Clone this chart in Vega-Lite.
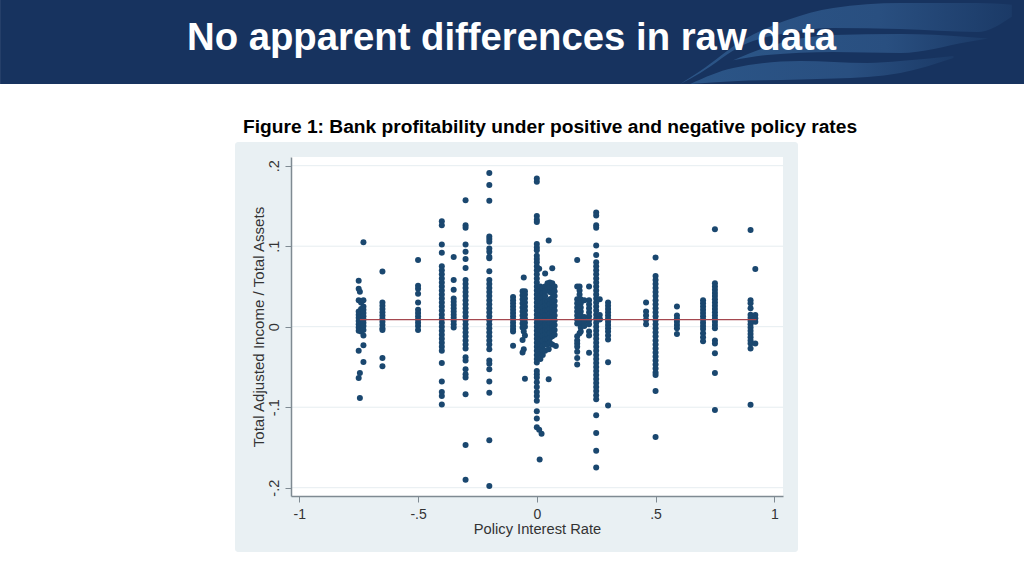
{"$schema":"https://vega.github.io/schema/vega-lite/v6.json","width":492,"height":339,"autosize":"none","padding":{"left":291,"top":157,"right":241,"bottom":80},"background":"#ffffff","view":{"stroke":null},
"resolve":{"axis":{"x":"independent","y":"independent"}},
"datasets":{"banks":[
{"rate":-0.75,"income":0.057},{"rate":-0.75,"income":0.047},{"rate":-0.745,"income":0.0435},{"rate":-0.75,"income":0.033},{"rate":-0.75,"income":0.019},{"rate":-0.75,"income":0.015},{"rate":-0.75,"income":0.011},{"rate":-0.75,"income":0.007},{"rate":-0.75,"income":0.003},{"rate":-0.75,"income":-0.001},{"rate":-0.75,"income":-0.005},{"rate":-0.74,"income":0.03},{"rate":-0.74,"income":0.022},{"rate":-0.74,"income":0.012},{"rate":-0.74,"income":0.004},{"rate":-0.74,"income":-0.006},{"rate":-0.75,"income":-0.03},{"rate":-0.75,"income":-0.0638},{"rate":-0.745,"income":-0.0576},{"rate":-0.745,"income":-0.0886},
{"rate":-0.73,"income":0.105},{"rate":-0.73,"income":0.033},{"rate":-0.73,"income":0.025},{"rate":-0.73,"income":0.021},{"rate":-0.73,"income":0.017},{"rate":-0.73,"income":0.013},{"rate":-0.73,"income":0.009},{"rate":-0.73,"income":0.005},{"rate":-0.73,"income":0.001},{"rate":-0.73,"income":-0.004},{"rate":-0.73,"income":-0.011},{"rate":-0.73,"income":-0.023},{"rate":-0.73,"income":-0.0438},
{"rate":-0.65,"income":0.0687},{"rate":-0.65,"income":0.03},{"rate":-0.65,"income":0.026},{"rate":-0.65,"income":0.022},{"rate":-0.65,"income":0.018},{"rate":-0.65,"income":0.014},{"rate":-0.65,"income":0.01},{"rate":-0.65,"income":0.006},{"rate":-0.65,"income":0.002},{"rate":-0.65,"income":-0.002},{"rate":-0.65,"income":-0.004},{"rate":-0.65,"income":-0.039},{"rate":-0.65,"income":-0.049},
{"rate":-0.5,"income":0.083},{"rate":-0.5,"income":0.051},{"rate":-0.5,"income":0.047},{"rate":-0.5,"income":0.041},{"rate":-0.5,"income":0.03},{"rate":-0.5,"income":0.021},{"rate":-0.5,"income":0.017},{"rate":-0.5,"income":0.013},{"rate":-0.5,"income":0.009},{"rate":-0.5,"income":0.005},{"rate":-0.5,"income":0.001},{"rate":-0.5,"income":-0.004},
{"rate":-0.4,"income":0.131},{"rate":-0.4,"income":0.126},{"rate":-0.4,"income":0.102},{"rate":-0.4,"income":0.092},{"rate":-0.4,"income":0.075},{"rate":-0.4,"income":0.07},{"rate":-0.4,"income":0.065},{"rate":-0.4,"income":0.06},{"rate":-0.4,"income":0.055},{"rate":-0.4,"income":0.05},{"rate":-0.4,"income":0.045},{"rate":-0.4,"income":0.04},{"rate":-0.4,"income":0.035},{"rate":-0.4,"income":0.03},{"rate":-0.4,"income":0.025},{"rate":-0.4,"income":0.02},{"rate":-0.4,"income":0.015},{"rate":-0.4,"income":0.01},{"rate":-0.4,"income":0.005},{"rate":-0.4,"income":0},{"rate":-0.4,"income":-0.005},{"rate":-0.4,"income":-0.01},{"rate":-0.4,"income":-0.015},{"rate":-0.4,"income":-0.02},{"rate":-0.4,"income":-0.025},{"rate":-0.4,"income":-0.03},{"rate":-0.4,"income":-0.045},{"rate":-0.4,"income":-0.068},{"rate":-0.4,"income":-0.081},{"rate":-0.4,"income":-0.086},{"rate":-0.4,"income":-0.0965},
{"rate":-0.35,"income":0.0865},{"rate":-0.35,"income":0.058},{"rate":-0.35,"income":0.046},{"rate":-0.35,"income":0.035},{"rate":-0.35,"income":0.031},{"rate":-0.35,"income":0.027},{"rate":-0.35,"income":0.023},{"rate":-0.35,"income":0.019},{"rate":-0.35,"income":0.015},{"rate":-0.35,"income":0.011},{"rate":-0.35,"income":0.007},{"rate":-0.35,"income":0.003},{"rate":-0.35,"income":-0.001},
{"rate":-0.3,"income":0.157},{"rate":-0.3,"income":0.126},{"rate":-0.3,"income":0.123},{"rate":-0.3,"income":0.102},{"rate":-0.3,"income":0.093},{"rate":-0.3,"income":0.084},{"rate":-0.3,"income":0.073},{"rate":-0.3,"income":0.058},{"rate":-0.3,"income":0.053},{"rate":-0.3,"income":0.048},{"rate":-0.3,"income":0.043},{"rate":-0.3,"income":0.038},{"rate":-0.3,"income":0.033},{"rate":-0.3,"income":0.028},{"rate":-0.3,"income":0.023},{"rate":-0.3,"income":0.018},{"rate":-0.3,"income":0.013},{"rate":-0.3,"income":0.008},{"rate":-0.3,"income":0.003},{"rate":-0.3,"income":-0.002},{"rate":-0.3,"income":-0.007},{"rate":-0.3,"income":-0.012},{"rate":-0.3,"income":-0.017},{"rate":-0.3,"income":-0.022},{"rate":-0.3,"income":-0.027},{"rate":-0.3,"income":-0.038},{"rate":-0.3,"income":-0.042},{"rate":-0.3,"income":-0.053},{"rate":-0.3,"income":-0.059},{"rate":-0.3,"income":-0.063},{"rate":-0.3,"income":-0.084},{"rate":-0.3,"income":-0.147},{"rate":-0.3,"income":-0.19},
{"rate":-0.2,"income":0.191},{"rate":-0.2,"income":0.176},{"rate":-0.2,"income":0.1565},{"rate":-0.2,"income":0.112},{"rate":-0.2,"income":0.109},{"rate":-0.2,"income":0.1056},{"rate":-0.2,"income":0.097},{"rate":-0.2,"income":0.093},{"rate":-0.2,"income":0.087},{"rate":-0.2,"income":0.085},{"rate":-0.2,"income":0.069},{"rate":-0.2,"income":0.058},{"rate":-0.2,"income":0.053},{"rate":-0.2,"income":0.048},{"rate":-0.2,"income":0.043},{"rate":-0.2,"income":0.038},{"rate":-0.2,"income":0.033},{"rate":-0.2,"income":0.028},{"rate":-0.2,"income":0.023},{"rate":-0.2,"income":0.018},{"rate":-0.2,"income":0.013},{"rate":-0.2,"income":0.008},{"rate":-0.2,"income":0.003},{"rate":-0.2,"income":-0.002},{"rate":-0.2,"income":-0.007},{"rate":-0.2,"income":-0.012},{"rate":-0.2,"income":-0.017},{"rate":-0.2,"income":-0.022},{"rate":-0.2,"income":-0.028},{"rate":-0.2,"income":-0.042},{"rate":-0.2,"income":-0.046},{"rate":-0.2,"income":-0.053},{"rate":-0.2,"income":-0.068},{"rate":-0.2,"income":-0.082},{"rate":-0.2,"income":-0.141},{"rate":-0.2,"income":-0.198},
{"rate":-0.1,"income":0.037},{"rate":-0.1,"income":0.033},{"rate":-0.1,"income":0.029},{"rate":-0.1,"income":0.025},{"rate":-0.1,"income":0.021},{"rate":-0.1,"income":0.017},{"rate":-0.1,"income":0.013},{"rate":-0.1,"income":0.009},{"rate":-0.1,"income":0.005},{"rate":-0.1,"income":0.001},{"rate":-0.1,"income":-0.003},{"rate":-0.1,"income":-0.006},{"rate":-0.1,"income":-0.0236},
{"rate":-0.055,"income":0.061},{"rate":-0.06,"income":0.044},{"rate":-0.05,"income":0.044},{"rate":-0.06,"income":0.039},{"rate":-0.05,"income":0.04},{"rate":-0.06,"income":0.034},{"rate":-0.05,"income":0.035},{"rate":-0.06,"income":0.029},{"rate":-0.05,"income":0.03},{"rate":-0.06,"income":0.024},{"rate":-0.05,"income":0.025},{"rate":-0.06,"income":0.019},{"rate":-0.05,"income":0.02},{"rate":-0.06,"income":0.014},{"rate":-0.05,"income":0.015},{"rate":-0.06,"income":0.009},{"rate":-0.05,"income":0.01},{"rate":-0.06,"income":0.004},{"rate":-0.05,"income":0.005},{"rate":-0.06,"income":-0.001},{"rate":-0.05,"income":0},{"rate":-0.055,"income":-0.006},{"rate":-0.05,"income":-0.011},{"rate":-0.06,"income":-0.0166},{"rate":-0.055,"income":-0.028},{"rate":-0.06,"income":-0.032},{"rate":-0.05,"income":-0.0646},
{"rate":0,"income":0.184},{"rate":0,"income":0.18},{"rate":0,"income":0.1375},{"rate":0,"income":0.133},{"rate":0,"income":0.13},{"rate":0,"income":0.1027},{"rate":0,"income":0.0985},{"rate":0,"income":0.095},{"rate":0,"income":0.088},{"rate":0,"income":0.084},{"rate":0,"income":0.08},{"rate":0,"income":0.075},{"rate":0,"income":0.07},{"rate":0,"income":0.065},{"rate":0,"income":0.06},{"rate":0,"income":0.055},{"rate":0,"income":0.05},{"rate":0,"income":0.045},{"rate":0,"income":0.04},{"rate":0,"income":0.035},{"rate":0,"income":0.03},{"rate":0,"income":0.025},{"rate":0,"income":0.02},{"rate":0,"income":0.015},{"rate":0,"income":0.01},{"rate":0,"income":0.005},{"rate":0,"income":0},{"rate":0,"income":-0.005},{"rate":0,"income":-0.01},{"rate":0,"income":-0.015},{"rate":0,"income":-0.02},{"rate":0,"income":-0.025},{"rate":0,"income":-0.03},{"rate":0,"income":-0.035},{"rate":0,"income":-0.04},{"rate":0,"income":-0.0444},{"rate":0,"income":-0.055},{"rate":0,"income":-0.059},{"rate":0,"income":-0.063},{"rate":0,"income":-0.069},{"rate":0,"income":-0.075},{"rate":0,"income":-0.081},{"rate":0,"income":-0.086},{"rate":0,"income":-0.092},{"rate":0,"income":-0.105},{"rate":0,"income":-0.114},{"rate":0,"income":-0.125},{"rate":0.01,"income":-0.128},{"rate":0.02,"income":-0.133},{"rate":0.012,"income":-0.165},{"rate":0.01,"income":0.072},
{"rate":0.035,"income":0.066},{"rate":0.05,"income":0.107},{"rate":0.065,"income":0.0725},{"rate":0.05,"income":-0.0654},
{"rate":0.015,"income":0.05},{"rate":0.015,"income":0.044},{"rate":0.015,"income":0.038},{"rate":0.015,"income":0.032},{"rate":0.015,"income":0.026},{"rate":0.015,"income":0.02},{"rate":0.015,"income":0.014},{"rate":0.015,"income":0.008},{"rate":0.015,"income":0.002},{"rate":0.015,"income":-0.004},{"rate":0.015,"income":-0.01},{"rate":0.015,"income":-0.016},{"rate":0.015,"income":-0.022},{"rate":0.015,"income":-0.028},{"rate":0.015,"income":-0.034},{"rate":0.015,"income":-0.04},
{"rate":0.025,"income":0.048},{"rate":0.025,"income":0.042},{"rate":0.025,"income":0.036},{"rate":0.025,"income":0.03},{"rate":0.025,"income":0.024},{"rate":0.025,"income":0.018},{"rate":0.025,"income":0.012},{"rate":0.025,"income":0.006},{"rate":0.025,"income":0},{"rate":0.025,"income":-0.006},{"rate":0.025,"income":-0.012},{"rate":0.025,"income":-0.018},{"rate":0.025,"income":-0.024},{"rate":0.025,"income":-0.03},{"rate":0.025,"income":-0.035},
{"rate":0.035,"income":0.05},{"rate":0.035,"income":0.044},{"rate":0.035,"income":0.038},{"rate":0.035,"income":0.032},{"rate":0.035,"income":0.026},{"rate":0.035,"income":0.02},{"rate":0.035,"income":0.014},{"rate":0.035,"income":0.008},{"rate":0.035,"income":0.002},{"rate":0.035,"income":-0.004},{"rate":0.035,"income":-0.01},{"rate":0.035,"income":-0.016},{"rate":0.035,"income":-0.022},{"rate":0.035,"income":-0.03},
{"rate":0.045,"income":0.054},{"rate":0.045,"income":0.048},{"rate":0.045,"income":0.032},{"rate":0.045,"income":0.026},{"rate":0.045,"income":0.02},{"rate":0.045,"income":0.014},{"rate":0.045,"income":0.008},{"rate":0.045,"income":0.002},{"rate":0.045,"income":-0.004},{"rate":0.045,"income":-0.01},{"rate":0.045,"income":-0.016},{"rate":0.045,"income":-0.022},{"rate":0.05,"income":-0.028},
{"rate":0.055,"income":0.055},{"rate":0.055,"income":0.049},{"rate":0.055,"income":0.043},{"rate":0.055,"income":0.034},{"rate":0.055,"income":0.028},{"rate":0.055,"income":0.022},{"rate":0.055,"income":0.016},{"rate":0.055,"income":0.01},{"rate":0.055,"income":0.004},{"rate":0.055,"income":-0.002},{"rate":0.055,"income":-0.008},{"rate":0.055,"income":-0.014},{"rate":0.055,"income":-0.02},
{"rate":0.065,"income":0.054},{"rate":0.065,"income":0.048},{"rate":0.065,"income":0.042},{"rate":0.065,"income":0.036},{"rate":0.065,"income":0.03},{"rate":0.065,"income":0.024},{"rate":0.065,"income":0.018},{"rate":0.065,"income":0.012},{"rate":0.065,"income":0.006},{"rate":0.065,"income":0},{"rate":0.065,"income":-0.006},{"rate":0.065,"income":-0.012},{"rate":0.065,"income":-0.022},
{"rate":0.075,"income":0.05},{"rate":0.075,"income":0.044},{"rate":0.075,"income":0.038},{"rate":0.075,"income":0.032},{"rate":0.075,"income":0.026},{"rate":0.075,"income":0.02},{"rate":0.075,"income":0.014},{"rate":0.075,"income":0.008},{"rate":0.075,"income":0.002},{"rate":0.075,"income":-0.004},{"rate":0.075,"income":-0.01},{"rate":0.08,"income":-0.024},
{"rate":0.17,"income":0.083},{"rate":0.17,"income":0.05},{"rate":0.17,"income":0.034},{"rate":0.17,"income":0.029},{"rate":0.17,"income":0.024},{"rate":0.17,"income":0.019},{"rate":0.17,"income":0.014},{"rate":0.17,"income":0.009},{"rate":0.17,"income":0.004},{"rate":0.17,"income":-0.012},{"rate":0.17,"income":-0.017},{"rate":0.17,"income":-0.021},{"rate":0.17,"income":-0.025},{"rate":0.17,"income":-0.031},{"rate":0.17,"income":-0.039},{"rate":0.17,"income":-0.047},
{"rate":0.18,"income":0.05},{"rate":0.18,"income":0.045},{"rate":0.18,"income":0.04},{"rate":0.185,"income":0.034},{"rate":0.185,"income":0.029},{"rate":0.185,"income":0.024},{"rate":0.185,"income":0.019},{"rate":0.185,"income":0.014},{"rate":0.185,"income":0.009},{"rate":0.185,"income":0.004},{"rate":0.185,"income":-0.001},{"rate":0.185,"income":-0.006},{"rate":0.18,"income":-0.008},
{"rate":0.2,"income":0.033},{"rate":0.2,"income":0.012},{"rate":0.2,"income":0.006},{"rate":0.2,"income":0.001},
{"rate":0.22,"income":0.05},{"rate":0.22,"income":0.033},{"rate":0.22,"income":0.028},{"rate":0.22,"income":0.023},{"rate":0.22,"income":0.018},{"rate":0.22,"income":0.013},{"rate":0.22,"income":0.008},{"rate":0.22,"income":0.003},{"rate":0.22,"income":-0.006},{"rate":0.22,"income":-0.011},{"rate":0.22,"income":-0.0323},
{"rate":0.25,"income":0.142},{"rate":0.25,"income":0.138},{"rate":0.25,"income":0.126},{"rate":0.25,"income":0.123},{"rate":0.25,"income":0.101},{"rate":0.25,"income":0.089},{"rate":0.25,"income":0.08},{"rate":0.25,"income":0.075},{"rate":0.25,"income":0.07},{"rate":0.25,"income":0.065},{"rate":0.25,"income":0.06},{"rate":0.25,"income":0.055},{"rate":0.25,"income":0.05},{"rate":0.25,"income":0.045},{"rate":0.25,"income":0.04},{"rate":0.25,"income":0.035},{"rate":0.25,"income":0.03},{"rate":0.25,"income":0.025},{"rate":0.25,"income":0.02},{"rate":0.25,"income":0.015},{"rate":0.25,"income":0.01},{"rate":0.25,"income":0.005},{"rate":0.25,"income":0},{"rate":0.25,"income":-0.005},{"rate":0.25,"income":-0.01},{"rate":0.25,"income":-0.015},{"rate":0.25,"income":-0.02},{"rate":0.25,"income":-0.025},{"rate":0.25,"income":-0.03},{"rate":0.25,"income":-0.035},{"rate":0.25,"income":-0.04},{"rate":0.25,"income":-0.045},{"rate":0.25,"income":-0.05},{"rate":0.25,"income":-0.055},{"rate":0.25,"income":-0.06},{"rate":0.25,"income":-0.065},{"rate":0.25,"income":-0.07},{"rate":0.25,"income":-0.075},{"rate":0.25,"income":-0.08},{"rate":0.25,"income":-0.085},{"rate":0.25,"income":-0.09},{"rate":0.25,"income":-0.11},{"rate":0.25,"income":-0.132},{"rate":0.25,"income":-0.154},{"rate":0.25,"income":-0.175},
{"rate":0.265,"income":0.034},{"rate":0.265,"income":0.0145},{"rate":0.265,"income":0.009},{"rate":0.265,"income":0.0095},
{"rate":0.3,"income":0.03},{"rate":0.3,"income":0.026},{"rate":0.3,"income":0.022},{"rate":0.3,"income":0.018},{"rate":0.3,"income":0.014},{"rate":0.3,"income":0.01},{"rate":0.3,"income":0.006},{"rate":0.3,"income":0.002},{"rate":0.3,"income":-0.002},{"rate":0.3,"income":-0.006},{"rate":0.3,"income":-0.011},{"rate":0.3,"income":-0.016},{"rate":0.3,"income":-0.0443},{"rate":0.3,"income":-0.098},
{"rate":0.46,"income":0.03},{"rate":0.46,"income":0.019},{"rate":0.46,"income":0.014},{"rate":0.46,"income":0.0085},{"rate":0.46,"income":0.003},
{"rate":0.5,"income":0.086},{"rate":0.5,"income":0.063},{"rate":0.5,"income":0.058},{"rate":0.5,"income":0.053},{"rate":0.5,"income":0.048},{"rate":0.5,"income":0.043},{"rate":0.5,"income":0.038},{"rate":0.5,"income":0.033},{"rate":0.5,"income":0.028},{"rate":0.5,"income":0.023},{"rate":0.5,"income":0.018},{"rate":0.5,"income":0.013},{"rate":0.5,"income":0.008},{"rate":0.5,"income":0.003},{"rate":0.5,"income":-0.002},{"rate":0.5,"income":-0.007},{"rate":0.5,"income":-0.012},{"rate":0.5,"income":-0.017},{"rate":0.5,"income":-0.022},{"rate":0.5,"income":-0.027},{"rate":0.5,"income":-0.032},{"rate":0.5,"income":-0.037},{"rate":0.5,"income":-0.042},{"rate":0.5,"income":-0.047},{"rate":0.5,"income":-0.052},{"rate":0.5,"income":-0.057},{"rate":0.5,"income":-0.06},{"rate":0.5,"income":-0.08},{"rate":0.5,"income":-0.137},
{"rate":0.59,"income":0.025},{"rate":0.59,"income":0.014},{"rate":0.59,"income":0.01},{"rate":0.59,"income":0.006},{"rate":0.59,"income":0.002},{"rate":0.59,"income":-0.002},{"rate":0.59,"income":-0.009},
{"rate":0.7,"income":0.033},{"rate":0.7,"income":0.029},{"rate":0.7,"income":0.025},{"rate":0.7,"income":0.021},{"rate":0.7,"income":0.017},{"rate":0.7,"income":0.013},{"rate":0.7,"income":0.009},{"rate":0.7,"income":0.005},{"rate":0.7,"income":0.001},{"rate":0.7,"income":-0.003},{"rate":0.7,"income":-0.008},{"rate":0.7,"income":-0.013},{"rate":0.7,"income":-0.018},
{"rate":0.75,"income":0.121},{"rate":0.75,"income":0.054},{"rate":0.75,"income":0.05},{"rate":0.75,"income":0.046},{"rate":0.75,"income":0.042},{"rate":0.75,"income":0.038},{"rate":0.75,"income":0.034},{"rate":0.75,"income":0.03},{"rate":0.75,"income":0.026},{"rate":0.75,"income":0.022},{"rate":0.75,"income":0.018},{"rate":0.75,"income":0.014},{"rate":0.75,"income":0.01},{"rate":0.75,"income":0.006},{"rate":0.75,"income":0.002},{"rate":0.75,"income":-0.002},{"rate":0.75,"income":-0.017},{"rate":0.75,"income":-0.021},{"rate":0.75,"income":-0.033},{"rate":0.75,"income":-0.0576},{"rate":0.75,"income":-0.1036},
{"rate":0.9,"income":0.12},{"rate":0.9,"income":0.033},{"rate":0.9,"income":0.029},{"rate":0.9,"income":0.023},{"rate":0.9,"income":0.015},{"rate":0.9,"income":0.011},{"rate":0.9,"income":0.007},{"rate":0.9,"income":0.003},{"rate":0.9,"income":-0.001},{"rate":0.9,"income":-0.005},{"rate":0.9,"income":-0.009},{"rate":0.9,"income":-0.013},{"rate":0.9,"income":-0.017},{"rate":0.9,"income":-0.021},{"rate":0.9,"income":-0.027},{"rate":0.9,"income":-0.097},
{"rate":0.92,"income":0.0716},{"rate":0.92,"income":0.0145},{"rate":0.92,"income":0.0104},{"rate":0.92,"income":0.006},{"rate":0.92,"income":-0.021}
],
"swoosh":[
{"band":"a","at":0.604,"hi":0.3015,"lo":0.3015},{"band":"a","at":0.688,"hi":0.3176,"lo":0.3152},{"band":"a","at":0.869,"hi":0.3561,"lo":0.3499},{"band":"a","at":1.055,"hi":0.381,"lo":0.365},{"band":"a","at":1.248,"hi":0.396,"lo":0.371},{"band":"a","at":1.531,"hi":0.402,"lo":0.3697},{"band":"a","at":1.855,"hi":0.402,"lo":0.366},{"band":"a","at":2.0,"hi":0.4,"lo":0.385},
{"band":"b","at":0.827,"hi":0.331,"lo":0.331},{"band":"b","at":0.97,"hi":0.3475,"lo":0.3375},{"band":"b","at":1.248,"hi":0.3624,"lo":0.3412},{"band":"b","at":1.531,"hi":0.3636,"lo":0.34},{"band":"b","at":1.813,"hi":0.36,"lo":0.3537},{"band":"b","at":1.9,"hi":0.358,"lo":0.358},
{"band":"c","at":0.646,"hi":0.3015,"lo":0.3015},{"band":"c","at":0.827,"hi":0.3214,"lo":0.305},{"band":"c","at":1.109,"hi":0.33,"lo":0.3071},{"band":"c","at":1.392,"hi":0.3276,"lo":0.3102},{"band":"c","at":1.531,"hi":0.33,"lo":0.3152},{"band":"c","at":1.754,"hi":0.3362,"lo":0.3337}
],
"grid":[{"tick":0.2},{"tick":0.1},{"tick":0},{"tick":-0.1},{"tick":-0.2}],
"fit":[{"rate":-0.745,"fitted":0.0089},{"rate":0.925,"fitted":0.0089}],
"one":[{"n":1}]
},
"layer":[
{"data":{"name":"one"},"mark":{"type":"rect","color":"#e9f0f3","cornerRadius":3},"encoding":{"x":{"datum":-1.2707,"type":"quantitative","scale":{"domain":[-1.035,1.0366],"nice":false,"zero":false},"axis":null},"x2":{"datum":1.0998},"y":{"datum":0.2294,"type":"quantitative","scale":{"domain":[-0.2103,0.2108],"nice":false,"zero":false},"axis":null},"y2":{"datum":-0.2799}}},
{"data":{"name":"one"},"mark":{"type":"rect","color":"#ffffff"},"encoding":{"x":{"datum":-1.035,"type":"quantitative","axis":null},"x2":{"datum":1.0366},"y":{"datum":0.2108,"type":"quantitative","axis":null},"y2":{"datum":-0.2103}}},
{"data":{"name":"one"},"mark":{"type":"rect","color":"#17335f"},"encoding":{"x":{"datum":-2.26,"type":"quantitative","axis":null},"x2":{"datum":2.0514},"y":{"datum":0.4058,"type":"quantitative","axis":null},"y2":{"datum":0.3015}}},
{"data":{"name":"swoosh"},"mark":{"type":"area","interpolate":"monotone","color":{"gradient":"linear","x1":0,"y1":0,"x2":1,"y2":0,"stops":[{"offset":0,"color":"#2b5587"},{"offset":0.6,"color":"#294f80"},{"offset":1,"color":"#1b3a67"}]}},"encoding":{"x":{"field":"at","type":"quantitative","axis":null},"y":{"field":"hi","type":"quantitative","axis":null},"y2":{"field":"lo"},"detail":{"field":"band"}}},
{"data":{"name":"grid"},"mark":{"type":"rule","color":"#e6edf0","strokeWidth":1},"encoding":{"y":{"field":"tick","type":"quantitative","axis":null}}},
{"data":{"name":"banks"},"mark":{"type":"circle","color":"#1a476f","opacity":1,"size":36},"encoding":{"x":{"field":"rate","type":"quantitative","axis":{"title":"Policy Interest Rate","zindex":1,"values":[-1,-0.5,0,0.5,1],"labelExpr":"replace(''+datum.value,'0.','.')","grid":false,"domainColor":"#7f8a92","domainWidth":1.5,"tickColor":"#7f8a92","tickSize":6,"labelColor":"#333333","labelFont":"Liberation Sans","labelFontSize":14,"labelPadding":5,"titleColor":"#333333","titleFont":"Liberation Sans","titleFontSize":14.7,"titleFontWeight":"normal","titlePadding":0}},"y":{"field":"income","type":"quantitative","axis":{"title":"Total Adjusted Income / Total Assets","zindex":1,"values":[-0.2,-0.1,0,0.1,0.2],"labelExpr":"replace(''+datum.value,'0.','.')","labelAngle":-90,"labelAlign":"center","labelBaseline":"bottom","grid":false,"domainColor":"#7f8a92","domainWidth":1.5,"tickColor":"#7f8a92","tickSize":6,"labelColor":"#333333","labelFont":"Liberation Sans","labelFontSize":14.5,"labelPadding":4,"titleColor":"#333333","titleFont":"Liberation Sans","titleFontSize":15.1,"titleFontWeight":"normal","titlePadding":0}}}},
{"data":{"name":"fit"},"mark":{"type":"line","stroke":"#a5474f","strokeWidth":1.2},"encoding":{"x":{"field":"rate","type":"quantitative","axis":null},"y":{"field":"fitted","type":"quantitative","axis":null}}},
{"data":{"name":"one"},"mark":{"type":"text","text":"No apparent differences in raw data","color":"#ffffff","font":"Liberation Sans","fontWeight":"bold","fontSize":38.3,"align":"center","baseline":"alphabetic"},"encoding":{"x":{"datum":-0.1065,"type":"quantitative","axis":null},"y":{"datum":0.3437,"type":"quantitative","axis":null}}},
{"data":{"name":"one"},"mark":{"type":"text","text":"Figure 1: Bank profitability under positive and negative policy rates","color":"#000000","font":"Liberation Sans","fontWeight":"bold","fontSize":19.2,"align":"center","baseline":"alphabetic"},"encoding":{"x":{"datum":0.0556,"type":"quantitative","axis":null},"y":{"datum":0.2406,"type":"quantitative","axis":null}}}
]}
